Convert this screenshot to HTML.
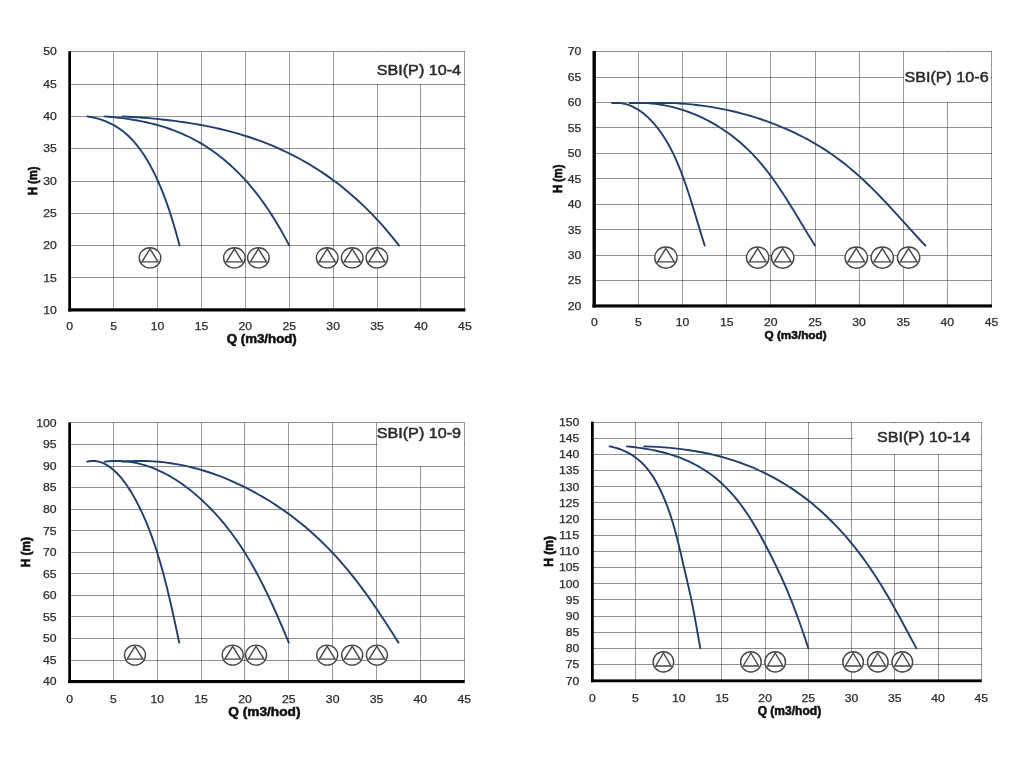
<!DOCTYPE html>
<html lang="cs">
<head>
<meta charset="utf-8">
<title>SBI(P) 10 – Q/H charakteristiky</title>
<style>
html,body{margin:0;padding:0;background:#fff;}
body{width:1024px;height:768px;overflow:hidden;}
svg{display:block;will-change:transform;}
svg text{font-family:"Liberation Sans",sans-serif;}
</style>
</head>
<body>
<svg width="1024" height="768" viewBox="0 0 1024 768">
<rect width="1024" height="768" fill="#fff"/>
<g>
<path d="M113.5 51.8V310.2M157.5 51.8V310.2M201.5 51.8V310.2M245.5 51.8V310.2M289.5 51.8V310.2M333.5 51.8V310.2M377.5 51.8V310.2M420.5 51.8V310.2M464.5 51.8V310.2" stroke="#000" stroke-opacity="0.40" stroke-width="1" fill="none"/>
<path d="M69.75 277.5H465.4M69.75 245.5H465.4M69.75 213.5H465.4M69.75 181.5H465.4M69.75 148.5H465.4M69.75 116.5H465.4M69.75 84.5H465.4M69.75 51.5H465.4" stroke="#000" stroke-opacity="0.44" stroke-width="1" fill="none"/>
<rect x="370" y="52.2" width="94" height="31.7" fill="#fff"/>
<text x="376.7" y="75.4" font-size="14.6" fill="#2b2b2b" stroke="#2b2b2b" stroke-width="0.5" textLength="84.4" lengthAdjust="spacingAndGlyphs">SBI(P) 10-4</text>
<polyline points="87.31,116.4 89.07,116.69 90.82,117.01 92.57,117.36 94.31,117.75 96.04,118.17 97.77,118.64 99.49,119.14 101.21,119.69 102.92,120.27 104.62,120.9 106.31,121.58 108,122.3 109.67,123.07 111.34,123.89 113,124.76 114.64,125.68 116.28,126.65 117.9,127.68 119.52,128.76 121.12,129.9 122.71,131.1 124.29,132.36 125.85,133.68 127.41,135.06 128.94,136.51 130.47,138.01 131.98,139.59 133.48,141.22 134.96,142.92 136.42,144.67 137.87,146.48 139.3,148.35 140.72,150.28 142.12,152.26 143.5,154.3 144.86,156.38 146.21,158.52 147.53,160.71 148.84,162.95 150.13,165.24 151.4,167.58 152.65,169.96 153.88,172.38 155.09,174.85 156.28,177.36 157.45,179.91 158.61,182.49 159.74,185.11 160.86,187.77 161.96,190.46 163.04,193.18 164.1,195.93 165.14,198.7 166.17,201.51 167.18,204.33 168.17,207.18 169.14,210.06 170.1,212.95 171.04,215.86 171.96,218.78 172.86,221.72 173.75,224.68 174.62,227.65 175.48,230.62 176.32,233.61 177.14,236.6 177.95,239.6 178.74,242.6 179.51,245.6" fill="none" stroke="#1f3f6c" stroke-width="1.9" stroke-linecap="round" stroke-linejoin="round"/>
<polyline points="104.87,116.4 108.39,116.69 111.89,117.01 115.38,117.36 118.86,117.75 122.34,118.17 125.79,118.64 129.24,119.14 132.67,119.69 136.09,120.27 139.49,120.9 142.88,121.58 146.24,122.3 149.6,123.07 152.93,123.89 156.24,124.76 159.53,125.68 162.81,126.65 166.06,127.68 169.29,128.76 172.49,129.9 175.67,131.1 178.83,132.36 181.96,133.68 185.06,135.06 188.14,136.51 191.19,138.01 194.21,139.59 197.2,141.22 200.16,142.92 203.09,144.67 205.99,146.48 208.85,148.35 211.69,150.28 214.48,152.26 217.25,154.3 219.97,156.38 222.67,158.52 225.32,160.71 227.93,162.95 230.51,165.24 233.05,167.58 235.55,169.96 238.01,172.38 240.43,174.85 242.81,177.36 245.16,179.91 247.46,182.49 249.73,185.11 251.97,187.77 254.16,190.46 256.32,193.18 258.45,195.93 260.54,198.7 262.59,201.51 264.6,204.33 266.59,207.18 268.53,210.06 270.44,212.95 272.32,215.86 274.17,218.78 275.98,221.72 277.75,224.68 279.5,227.65 281.21,230.62 282.89,233.61 284.53,236.6 286.15,239.6 287.73,242.6 289.28,245.6" fill="none" stroke="#1f3f6c" stroke-width="1.9" stroke-linecap="round" stroke-linejoin="round"/>
<polyline points="122.44,116.4 127.7,116.69 132.96,117.01 138.2,117.36 143.42,117.75 148.63,118.17 153.82,118.64 158.98,119.14 164.13,119.69 169.26,120.27 174.36,120.9 179.44,121.58 184.49,122.3 189.52,123.07 194.52,123.89 199.49,124.76 204.43,125.68 209.33,126.65 214.21,127.68 219.05,128.76 223.86,129.9 228.63,131.1 233.37,132.36 238.06,133.68 242.72,135.06 247.33,136.51 251.91,138.01 256.44,139.59 260.93,141.22 265.37,142.92 269.76,144.67 274.11,146.48 278.41,148.35 282.65,150.28 286.85,152.26 291,154.3 295.09,156.38 299.12,158.52 303.1,160.71 307.03,162.95 310.89,165.24 314.7,167.58 318.45,169.96 322.14,172.38 325.77,174.85 329.34,177.36 332.86,179.91 336.32,182.49 339.73,185.11 343.08,187.77 346.37,190.46 349.61,193.18 352.8,195.93 355.93,198.7 359.01,201.51 362.03,204.33 365,207.18 367.92,210.06 370.79,212.95 373.61,215.86 376.38,218.78 379.09,221.72 381.76,224.68 384.37,227.65 386.94,230.62 389.45,233.61 391.92,236.6 394.34,239.6 396.72,242.6 399.04,245.6" fill="none" stroke="#1f3f6c" stroke-width="1.9" stroke-linecap="round" stroke-linejoin="round"/>
<ellipse cx="150" cy="257.8" rx="10.8" ry="10.1" fill="#fff" stroke="#444444" stroke-width="1.4"/>
<path d="M150 248.91L158.1 261.84H141.9Z" fill="none" stroke="#444444" stroke-width="1.4" stroke-linejoin="miter"/>
<ellipse cx="234.4" cy="257.8" rx="10.8" ry="10.1" fill="#fff" stroke="#444444" stroke-width="1.4"/>
<path d="M234.4 248.91L242.5 261.84H226.3Z" fill="none" stroke="#444444" stroke-width="1.4" stroke-linejoin="miter"/>
<ellipse cx="258.4" cy="257.8" rx="10.8" ry="10.1" fill="#fff" stroke="#444444" stroke-width="1.4"/>
<path d="M258.4 248.91L266.5 261.84H250.3Z" fill="none" stroke="#444444" stroke-width="1.4" stroke-linejoin="miter"/>
<ellipse cx="327.2" cy="257.8" rx="10.8" ry="10.1" fill="#fff" stroke="#444444" stroke-width="1.4"/>
<path d="M327.2 248.91L335.3 261.84H319.1Z" fill="none" stroke="#444444" stroke-width="1.4" stroke-linejoin="miter"/>
<ellipse cx="352.2" cy="257.8" rx="10.8" ry="10.1" fill="#fff" stroke="#444444" stroke-width="1.4"/>
<path d="M352.2 248.91L360.3 261.84H344.1Z" fill="none" stroke="#444444" stroke-width="1.4" stroke-linejoin="miter"/>
<ellipse cx="376.9" cy="257.8" rx="10.8" ry="10.1" fill="#fff" stroke="#444444" stroke-width="1.4"/>
<path d="M376.9 248.91L385 261.84H368.8Z" fill="none" stroke="#444444" stroke-width="1.4" stroke-linejoin="miter"/>
<rect x="68.3" y="51.3" width="2.7" height="260.2" fill="#000"/>
<rect x="68.3" y="308.3" width="397.1" height="3.2" fill="#000"/>
<text x="43.15" y="314" font-size="11" fill="#2b2b2b" stroke="#2b2b2b" stroke-width="0.25" textLength="13.6" lengthAdjust="spacingAndGlyphs">10</text>
<text x="43.15" y="282" font-size="11" fill="#2b2b2b" stroke="#2b2b2b" stroke-width="0.25" textLength="13.6" lengthAdjust="spacingAndGlyphs">15</text>
<text x="43.15" y="249" font-size="11" fill="#2b2b2b" stroke="#2b2b2b" stroke-width="0.25" textLength="13.6" lengthAdjust="spacingAndGlyphs">20</text>
<text x="43.15" y="217" font-size="11" fill="#2b2b2b" stroke="#2b2b2b" stroke-width="0.25" textLength="13.6" lengthAdjust="spacingAndGlyphs">25</text>
<text x="43.15" y="185" font-size="11" fill="#2b2b2b" stroke="#2b2b2b" stroke-width="0.25" textLength="13.6" lengthAdjust="spacingAndGlyphs">30</text>
<text x="43.15" y="152" font-size="11" fill="#2b2b2b" stroke="#2b2b2b" stroke-width="0.25" textLength="13.6" lengthAdjust="spacingAndGlyphs">35</text>
<text x="43.15" y="120" font-size="11" fill="#2b2b2b" stroke="#2b2b2b" stroke-width="0.25" textLength="13.6" lengthAdjust="spacingAndGlyphs">40</text>
<text x="43.15" y="88" font-size="11" fill="#2b2b2b" stroke="#2b2b2b" stroke-width="0.25" textLength="13.6" lengthAdjust="spacingAndGlyphs">45</text>
<text x="43.15" y="55" font-size="11" fill="#2b2b2b" stroke="#2b2b2b" stroke-width="0.25" textLength="13.6" lengthAdjust="spacingAndGlyphs">50</text>
<text x="66.35" y="330" font-size="11" fill="#2b2b2b" stroke="#2b2b2b" stroke-width="0.25" textLength="6.8" lengthAdjust="spacingAndGlyphs">0</text>
<text x="110.26" y="330" font-size="11" fill="#2b2b2b" stroke="#2b2b2b" stroke-width="0.25" textLength="6.8" lengthAdjust="spacingAndGlyphs">5</text>
<text x="150.76" y="330" font-size="11" fill="#2b2b2b" stroke="#2b2b2b" stroke-width="0.25" textLength="13.6" lengthAdjust="spacingAndGlyphs">10</text>
<text x="194.67" y="330" font-size="11" fill="#2b2b2b" stroke="#2b2b2b" stroke-width="0.25" textLength="13.6" lengthAdjust="spacingAndGlyphs">15</text>
<text x="238.57" y="330" font-size="11" fill="#2b2b2b" stroke="#2b2b2b" stroke-width="0.25" textLength="13.6" lengthAdjust="spacingAndGlyphs">20</text>
<text x="282.48" y="330" font-size="11" fill="#2b2b2b" stroke="#2b2b2b" stroke-width="0.25" textLength="13.6" lengthAdjust="spacingAndGlyphs">25</text>
<text x="326.38" y="330" font-size="11" fill="#2b2b2b" stroke="#2b2b2b" stroke-width="0.25" textLength="13.6" lengthAdjust="spacingAndGlyphs">30</text>
<text x="370.29" y="330" font-size="11" fill="#2b2b2b" stroke="#2b2b2b" stroke-width="0.25" textLength="13.6" lengthAdjust="spacingAndGlyphs">35</text>
<text x="414.19" y="330" font-size="11" fill="#2b2b2b" stroke="#2b2b2b" stroke-width="0.25" textLength="13.6" lengthAdjust="spacingAndGlyphs">40</text>
<text x="458.1" y="330" font-size="11" fill="#2b2b2b" stroke="#2b2b2b" stroke-width="0.25" textLength="13.6" lengthAdjust="spacingAndGlyphs">45</text>
<text x="226.75" y="343" font-size="12.5" font-weight="bold" fill="#111" stroke="#111" stroke-width="0.55" textLength="70" lengthAdjust="spacingAndGlyphs">Q (m3/hod)</text>
<text transform="translate(37.2 180.8) rotate(-90)" x="-14.4" y="0" font-size="13" font-weight="bold" fill="#111" stroke="#111" stroke-width="0.7" textLength="28.8" lengthAdjust="spacingAndGlyphs">H (m)</text>
</g>
<g>
<path d="M638.5 51.5V306M682.5 51.5V306M726.5 51.5V306M770.5 51.5V306M815.5 51.5V306M859.5 51.5V306M903.5 51.5V306M947.5 51.5V306M991.5 51.5V306" stroke="#000" stroke-opacity="0.40" stroke-width="1" fill="none"/>
<path d="M594.4 280.5H992M594.4 255.5H992M594.4 229.5H992M594.4 204.5H992M594.4 178.5H992M594.4 153.5H992M594.4 127.5H992M594.4 102.5H992M594.4 77.5H992M594.4 51.5H992" stroke="#000" stroke-opacity="0.44" stroke-width="1" fill="none"/>
<rect x="904.2" y="52.2" width="86.8" height="49.7" fill="#fff"/>
<text x="904.5" y="81.6" font-size="14.6" fill="#2b2b2b" stroke="#2b2b2b" stroke-width="0.5" textLength="84.1" lengthAdjust="spacingAndGlyphs">SBI(P) 10-6</text>
<polyline points="612.05,103 613.9,103 615.75,103 617.59,103 619.42,103 621.24,103.17 623.05,103.48 624.85,103.88 626.65,104.37 628.43,104.94 630.2,105.6 631.96,106.35 633.7,107.17 635.44,108.08 637.16,109.07 638.86,110.14 640.56,111.29 642.23,112.51 643.9,113.81 645.54,115.18 647.18,116.63 648.79,118.15 650.39,119.73 651.97,121.39 653.53,123.12 655.07,124.91 656.6,126.76 658.1,128.69 659.59,130.67 661.06,132.72 662.5,134.82 663.92,136.99 665.32,139.21 666.7,141.49 668.06,143.83 669.39,146.22 670.7,148.66 671.98,151.16 673.24,153.7 674.47,156.3 675.68,158.94 676.87,161.62 678.03,164.35 679.17,167.12 680.3,169.93 681.4,172.77 682.48,175.64 683.55,178.55 684.6,181.48 685.63,184.44 686.65,187.43 687.66,190.43 688.66,193.45 689.64,196.5 690.61,199.55 691.58,202.62 692.54,205.69 693.49,208.78 694.43,211.87 695.37,214.96 696.3,218.05 697.23,221.14 698.16,224.23 699.09,227.31 700.02,230.38 700.95,233.44 701.88,236.49 702.82,239.52 703.76,242.53 704.71,245.52" fill="none" stroke="#1f3f6c" stroke-width="1.9" stroke-linecap="round" stroke-linejoin="round"/>
<polyline points="629.7,103 633.4,103 637.1,103 640.77,103 644.43,103 648.08,103.17 651.7,103.48 655.31,103.88 658.89,104.37 662.45,104.94 665.99,105.6 669.51,106.35 673,107.17 676.47,108.08 679.91,109.07 683.33,110.14 686.71,111.29 690.07,112.51 693.39,113.81 696.69,115.18 699.95,116.63 703.18,118.15 706.38,119.73 709.54,121.39 712.66,123.12 715.75,124.91 718.8,126.76 721.81,128.69 724.78,130.67 727.71,132.72 730.6,134.82 733.44,136.99 736.25,139.21 739,141.49 741.71,143.83 744.38,146.22 746.99,148.66 749.56,151.16 752.08,153.7 754.55,156.3 756.97,158.94 759.34,161.62 761.66,164.35 763.95,167.12 766.19,169.93 768.4,172.77 770.56,175.64 772.7,178.55 774.8,181.48 776.87,184.44 778.91,187.43 780.92,190.43 782.91,193.45 784.88,196.5 786.83,199.55 788.76,202.62 790.67,205.69 792.57,208.78 794.46,211.87 796.34,214.96 798.21,218.05 800.07,221.14 801.93,224.23 803.79,227.31 805.64,230.38 807.51,233.44 809.37,236.49 811.24,239.52 813.12,242.53 815.01,245.52" fill="none" stroke="#1f3f6c" stroke-width="1.9" stroke-linecap="round" stroke-linejoin="round"/>
<polyline points="647.35,103 652.91,103 658.45,103 663.96,103 669.45,103 674.92,103.17 680.35,103.48 685.76,103.88 691.14,104.37 696.48,104.94 701.79,105.6 707.07,106.35 712.31,107.17 717.51,108.08 722.67,109.07 727.79,110.14 732.87,111.29 737.9,112.51 742.89,113.81 747.83,115.18 752.73,116.63 757.57,118.15 762.37,119.73 767.11,121.39 771.79,123.12 776.42,124.91 781,126.76 785.51,128.69 789.97,130.67 794.37,132.72 798.7,134.82 802.97,136.99 807.17,139.21 811.3,141.49 815.37,143.83 819.36,146.22 823.29,148.66 827.14,151.16 830.92,153.7 834.62,156.3 838.25,158.94 841.81,161.62 845.3,164.35 848.72,167.12 852.09,169.93 855.39,172.77 858.64,175.64 861.84,178.55 864.99,181.48 868.1,184.44 871.16,187.43 874.18,190.43 877.17,193.45 880.12,196.5 883.04,199.55 885.94,202.62 888.81,205.69 891.66,208.78 894.49,211.87 897.3,214.96 900.11,218.05 902.9,221.14 905.69,224.23 908.48,227.31 911.27,230.38 914.06,233.44 916.85,236.49 919.66,239.52 922.48,242.53 925.32,245.52" fill="none" stroke="#1f3f6c" stroke-width="1.9" stroke-linecap="round" stroke-linejoin="round"/>
<ellipse cx="665.9" cy="257.6" rx="11.2" ry="10.6" fill="#fff" stroke="#444444" stroke-width="1.4"/>
<path d="M665.9 248.27L674.3 261.84H657.5Z" fill="none" stroke="#444444" stroke-width="1.4" stroke-linejoin="miter"/>
<ellipse cx="757.7" cy="257.6" rx="11.2" ry="10.6" fill="#fff" stroke="#444444" stroke-width="1.4"/>
<path d="M757.7 248.27L766.1 261.84H749.3Z" fill="none" stroke="#444444" stroke-width="1.4" stroke-linejoin="miter"/>
<ellipse cx="782.7" cy="257.6" rx="11.2" ry="10.6" fill="#fff" stroke="#444444" stroke-width="1.4"/>
<path d="M782.7 248.27L791.1 261.84H774.3Z" fill="none" stroke="#444444" stroke-width="1.4" stroke-linejoin="miter"/>
<ellipse cx="856.25" cy="257.6" rx="11.2" ry="10.6" fill="#fff" stroke="#444444" stroke-width="1.4"/>
<path d="M856.25 248.27L864.65 261.84H847.85Z" fill="none" stroke="#444444" stroke-width="1.4" stroke-linejoin="miter"/>
<ellipse cx="882.3" cy="257.6" rx="11.2" ry="10.6" fill="#fff" stroke="#444444" stroke-width="1.4"/>
<path d="M882.3 248.27L890.7 261.84H873.9Z" fill="none" stroke="#444444" stroke-width="1.4" stroke-linejoin="miter"/>
<ellipse cx="908.6" cy="257.6" rx="11.2" ry="10.6" fill="#fff" stroke="#444444" stroke-width="1.4"/>
<path d="M908.6 248.27L917 261.84H900.2Z" fill="none" stroke="#444444" stroke-width="1.4" stroke-linejoin="miter"/>
<rect x="592.5" y="51" width="3.4" height="256.5" fill="#000"/>
<rect x="592.5" y="304.4" width="399.5" height="3.1" fill="#000"/>
<text x="567.8" y="310" font-size="11" fill="#2b2b2b" stroke="#2b2b2b" stroke-width="0.25" textLength="13.6" lengthAdjust="spacingAndGlyphs">20</text>
<text x="567.8" y="284" font-size="11" fill="#2b2b2b" stroke="#2b2b2b" stroke-width="0.25" textLength="13.6" lengthAdjust="spacingAndGlyphs">25</text>
<text x="567.8" y="259" font-size="11" fill="#2b2b2b" stroke="#2b2b2b" stroke-width="0.25" textLength="13.6" lengthAdjust="spacingAndGlyphs">30</text>
<text x="567.8" y="234" font-size="11" fill="#2b2b2b" stroke="#2b2b2b" stroke-width="0.25" textLength="13.6" lengthAdjust="spacingAndGlyphs">35</text>
<text x="567.8" y="208" font-size="11" fill="#2b2b2b" stroke="#2b2b2b" stroke-width="0.25" textLength="13.6" lengthAdjust="spacingAndGlyphs">40</text>
<text x="567.8" y="183" font-size="11" fill="#2b2b2b" stroke="#2b2b2b" stroke-width="0.25" textLength="13.6" lengthAdjust="spacingAndGlyphs">45</text>
<text x="567.8" y="157" font-size="11" fill="#2b2b2b" stroke="#2b2b2b" stroke-width="0.25" textLength="13.6" lengthAdjust="spacingAndGlyphs">50</text>
<text x="567.8" y="132" font-size="11" fill="#2b2b2b" stroke="#2b2b2b" stroke-width="0.25" textLength="13.6" lengthAdjust="spacingAndGlyphs">55</text>
<text x="567.8" y="106" font-size="11" fill="#2b2b2b" stroke="#2b2b2b" stroke-width="0.25" textLength="13.6" lengthAdjust="spacingAndGlyphs">60</text>
<text x="567.8" y="81" font-size="11" fill="#2b2b2b" stroke="#2b2b2b" stroke-width="0.25" textLength="13.6" lengthAdjust="spacingAndGlyphs">65</text>
<text x="567.8" y="55" font-size="11" fill="#2b2b2b" stroke="#2b2b2b" stroke-width="0.25" textLength="13.6" lengthAdjust="spacingAndGlyphs">70</text>
<text x="591" y="326" font-size="11" fill="#2b2b2b" stroke="#2b2b2b" stroke-width="0.25" textLength="6.8" lengthAdjust="spacingAndGlyphs">0</text>
<text x="635.12" y="326" font-size="11" fill="#2b2b2b" stroke="#2b2b2b" stroke-width="0.25" textLength="6.8" lengthAdjust="spacingAndGlyphs">5</text>
<text x="675.84" y="326" font-size="11" fill="#2b2b2b" stroke="#2b2b2b" stroke-width="0.25" textLength="13.6" lengthAdjust="spacingAndGlyphs">10</text>
<text x="719.97" y="326" font-size="11" fill="#2b2b2b" stroke="#2b2b2b" stroke-width="0.25" textLength="13.6" lengthAdjust="spacingAndGlyphs">15</text>
<text x="764.09" y="326" font-size="11" fill="#2b2b2b" stroke="#2b2b2b" stroke-width="0.25" textLength="13.6" lengthAdjust="spacingAndGlyphs">20</text>
<text x="808.21" y="326" font-size="11" fill="#2b2b2b" stroke="#2b2b2b" stroke-width="0.25" textLength="13.6" lengthAdjust="spacingAndGlyphs">25</text>
<text x="852.33" y="326" font-size="11" fill="#2b2b2b" stroke="#2b2b2b" stroke-width="0.25" textLength="13.6" lengthAdjust="spacingAndGlyphs">30</text>
<text x="896.46" y="326" font-size="11" fill="#2b2b2b" stroke="#2b2b2b" stroke-width="0.25" textLength="13.6" lengthAdjust="spacingAndGlyphs">35</text>
<text x="940.58" y="326" font-size="11" fill="#2b2b2b" stroke="#2b2b2b" stroke-width="0.25" textLength="13.6" lengthAdjust="spacingAndGlyphs">40</text>
<text x="984.7" y="326" font-size="11" fill="#2b2b2b" stroke="#2b2b2b" stroke-width="0.25" textLength="13.6" lengthAdjust="spacingAndGlyphs">45</text>
<text x="764.48" y="339" font-size="11.5" font-weight="bold" fill="#111" stroke="#111" stroke-width="0.55" textLength="62.25" lengthAdjust="spacingAndGlyphs">Q (m3/hod)</text>
<text transform="translate(562.3 178.8) rotate(-90)" x="-14.3" y="0" font-size="13" font-weight="bold" fill="#111" stroke="#111" stroke-width="0.7" textLength="28.6" lengthAdjust="spacingAndGlyphs">H (m)</text>
</g>
<g>
<path d="M113.5 422.9V681.4M157.5 422.9V681.4M201.5 422.9V681.4M244.5 422.9V681.4M288.5 422.9V681.4M332.5 422.9V681.4M376.5 422.9V681.4M420.5 422.9V681.4M464.5 422.9V681.4" stroke="#000" stroke-opacity="0.40" stroke-width="1" fill="none"/>
<path d="M69.6 660.5H464.7M69.6 638.5H464.7M69.6 616.5H464.7M69.6 595.5H464.7M69.6 573.5H464.7M69.6 552.5H464.7M69.6 530.5H464.7M69.6 509.5H464.7M69.6 487.5H464.7M69.6 466.5H464.7M69.6 444.5H464.7M69.6 422.5H464.7" stroke="#000" stroke-opacity="0.44" stroke-width="1" fill="none"/>
<rect x="377.2" y="423.1" width="86.7" height="42.8" fill="#fff"/>
<text x="376.7" y="438" font-size="14.6" fill="#2b2b2b" stroke="#2b2b2b" stroke-width="0.5" textLength="84.4" lengthAdjust="spacingAndGlyphs">SBI(P) 10-9</text>
<polyline points="87.14,461.67 89.23,461.24 91.3,460.99 93.35,460.93 95.38,461.05 97.39,461.34 99.37,461.8 101.33,462.42 103.27,463.19 105.19,464.12 107.08,465.18 108.96,466.39 110.8,467.72 112.63,469.19 114.43,470.77 116.21,472.47 117.97,474.27 119.7,476.19 121.41,478.2 123.1,480.31 124.76,482.51 126.39,484.79 128.01,487.16 129.6,489.61 131.16,492.12 132.7,494.71 134.22,497.35 135.71,500.06 137.18,502.82 138.62,505.63 140.04,508.49 141.43,511.4 142.8,514.35 144.14,517.35 145.46,520.4 146.75,523.48 148.02,526.6 149.26,529.76 150.47,532.96 151.66,536.19 152.83,539.45 153.97,542.74 155.09,546.06 156.18,549.41 157.26,552.79 158.31,556.19 159.34,559.62 160.36,563.07 161.35,566.55 162.33,570.05 163.29,573.56 164.23,577.1 165.16,580.65 166.07,584.22 166.97,587.81 167.85,591.41 168.72,595.02 169.58,598.65 170.43,602.28 171.27,605.93 172.09,609.58 172.91,613.24 173.72,616.91 174.52,620.58 175.32,624.25 176.11,627.93 176.89,631.6 177.67,635.28 178.44,638.95 179.21,642.62" fill="none" stroke="#1f3f6c" stroke-width="1.9" stroke-linecap="round" stroke-linejoin="round"/>
<polyline points="104.68,461.67 108.86,461.24 113.01,460.99 117.11,460.93 121.16,461.05 125.18,461.34 129.14,461.8 133.07,462.42 136.95,463.19 140.78,464.12 144.57,465.18 148.31,466.39 152.01,467.72 155.66,469.19 159.27,470.77 162.82,472.47 166.34,474.27 169.8,476.19 173.22,478.2 176.59,480.31 179.91,482.51 183.19,484.79 186.42,487.16 189.6,489.61 192.73,492.12 195.81,494.71 198.84,497.35 201.83,500.06 204.76,502.82 207.65,505.63 210.48,508.49 213.27,511.4 216,514.35 218.69,517.35 221.32,520.4 223.91,523.48 226.44,526.6 228.92,529.76 231.35,532.96 233.73,536.19 236.06,539.45 238.34,542.74 240.58,546.06 242.77,549.41 244.91,552.79 247.02,556.19 249.09,559.62 251.11,563.07 253.1,566.55 255.06,570.05 256.97,573.56 258.86,577.1 260.71,580.65 262.54,584.22 264.33,587.81 266.1,591.41 267.84,595.02 269.56,598.65 271.26,602.28 272.93,605.93 274.59,609.58 276.22,613.24 277.84,616.91 279.44,620.58 281.03,624.25 282.61,627.93 284.18,631.6 285.73,635.28 287.28,638.95 288.82,642.62" fill="none" stroke="#1f3f6c" stroke-width="1.9" stroke-linecap="round" stroke-linejoin="round"/>
<polyline points="122.21,461.67 128.49,461.24 134.71,460.99 140.86,460.93 146.95,461.05 152.96,461.34 158.92,461.8 164.8,462.42 170.62,463.19 176.37,464.12 182.05,465.18 187.67,466.39 193.21,467.72 198.69,469.19 204.1,470.77 209.44,472.47 214.7,474.27 219.9,476.19 225.03,478.2 230.09,480.31 235.07,482.51 239.98,484.79 244.83,487.16 249.59,489.61 254.29,492.12 258.91,494.71 263.46,497.35 267.94,500.06 272.34,502.82 276.67,505.63 280.93,508.49 285.1,511.4 289.21,514.35 293.23,517.35 297.19,520.4 301.06,523.48 304.86,526.6 308.58,529.76 312.22,532.96 315.79,536.19 319.29,539.45 322.71,542.74 326.06,546.06 329.35,549.41 332.57,552.79 335.73,556.19 338.83,559.62 341.87,563.07 344.85,566.55 347.78,570.05 350.66,573.56 353.49,577.1 356.27,580.65 359.01,584.22 361.7,587.81 364.35,591.41 366.97,595.02 369.54,598.65 372.09,602.28 374.6,605.93 377.08,609.58 379.53,613.24 381.96,616.91 384.37,620.58 386.75,624.25 389.12,627.93 391.47,631.6 393.8,635.28 396.12,638.95 398.43,642.62" fill="none" stroke="#1f3f6c" stroke-width="1.9" stroke-linecap="round" stroke-linejoin="round"/>
<ellipse cx="135" cy="655.1" rx="10.5" ry="10" fill="#fff" stroke="#444444" stroke-width="1.4"/>
<path d="M135 646.3L142.88 659.1H127.12Z" fill="none" stroke="#444444" stroke-width="1.4" stroke-linejoin="miter"/>
<ellipse cx="232.7" cy="655.1" rx="10.5" ry="10" fill="#fff" stroke="#444444" stroke-width="1.4"/>
<path d="M232.7 646.3L240.57 659.1H224.82Z" fill="none" stroke="#444444" stroke-width="1.4" stroke-linejoin="miter"/>
<ellipse cx="256.1" cy="655.1" rx="10.5" ry="10" fill="#fff" stroke="#444444" stroke-width="1.4"/>
<path d="M256.1 646.3L263.98 659.1H248.23Z" fill="none" stroke="#444444" stroke-width="1.4" stroke-linejoin="miter"/>
<ellipse cx="327.2" cy="655.1" rx="10.5" ry="10" fill="#fff" stroke="#444444" stroke-width="1.4"/>
<path d="M327.2 646.3L335.07 659.1H319.32Z" fill="none" stroke="#444444" stroke-width="1.4" stroke-linejoin="miter"/>
<ellipse cx="352.2" cy="655.1" rx="10.5" ry="10" fill="#fff" stroke="#444444" stroke-width="1.4"/>
<path d="M352.2 646.3L360.07 659.1H344.32Z" fill="none" stroke="#444444" stroke-width="1.4" stroke-linejoin="miter"/>
<ellipse cx="376.9" cy="655.1" rx="10.5" ry="10" fill="#fff" stroke="#444444" stroke-width="1.4"/>
<path d="M376.9 646.3L384.77 659.1H369.02Z" fill="none" stroke="#444444" stroke-width="1.4" stroke-linejoin="miter"/>
<rect x="68.25" y="422.4" width="2.75" height="260.7" fill="#000"/>
<rect x="68.25" y="680" width="396.45" height="3.1" fill="#000"/>
<text x="43" y="685" font-size="11" fill="#2b2b2b" stroke="#2b2b2b" stroke-width="0.25" textLength="13.6" lengthAdjust="spacingAndGlyphs">40</text>
<text x="43" y="664" font-size="11" fill="#2b2b2b" stroke="#2b2b2b" stroke-width="0.25" textLength="13.6" lengthAdjust="spacingAndGlyphs">45</text>
<text x="43" y="642" font-size="11" fill="#2b2b2b" stroke="#2b2b2b" stroke-width="0.25" textLength="13.6" lengthAdjust="spacingAndGlyphs">50</text>
<text x="43" y="621" font-size="11" fill="#2b2b2b" stroke="#2b2b2b" stroke-width="0.25" textLength="13.6" lengthAdjust="spacingAndGlyphs">55</text>
<text x="43" y="599" font-size="11" fill="#2b2b2b" stroke="#2b2b2b" stroke-width="0.25" textLength="13.6" lengthAdjust="spacingAndGlyphs">60</text>
<text x="43" y="578" font-size="11" fill="#2b2b2b" stroke="#2b2b2b" stroke-width="0.25" textLength="13.6" lengthAdjust="spacingAndGlyphs">65</text>
<text x="43" y="556" font-size="11" fill="#2b2b2b" stroke="#2b2b2b" stroke-width="0.25" textLength="13.6" lengthAdjust="spacingAndGlyphs">70</text>
<text x="43" y="535" font-size="11" fill="#2b2b2b" stroke="#2b2b2b" stroke-width="0.25" textLength="13.6" lengthAdjust="spacingAndGlyphs">75</text>
<text x="43" y="513" font-size="11" fill="#2b2b2b" stroke="#2b2b2b" stroke-width="0.25" textLength="13.6" lengthAdjust="spacingAndGlyphs">80</text>
<text x="43" y="491" font-size="11" fill="#2b2b2b" stroke="#2b2b2b" stroke-width="0.25" textLength="13.6" lengthAdjust="spacingAndGlyphs">85</text>
<text x="43" y="470" font-size="11" fill="#2b2b2b" stroke="#2b2b2b" stroke-width="0.25" textLength="13.6" lengthAdjust="spacingAndGlyphs">90</text>
<text x="43" y="448" font-size="11" fill="#2b2b2b" stroke="#2b2b2b" stroke-width="0.25" textLength="13.6" lengthAdjust="spacingAndGlyphs">95</text>
<text x="36.2" y="427" font-size="11" fill="#2b2b2b" stroke="#2b2b2b" stroke-width="0.25" textLength="20.4" lengthAdjust="spacingAndGlyphs">100</text>
<text x="66.2" y="703" font-size="11" fill="#2b2b2b" stroke="#2b2b2b" stroke-width="0.25" textLength="6.8" lengthAdjust="spacingAndGlyphs">0</text>
<text x="110.04" y="703" font-size="11" fill="#2b2b2b" stroke="#2b2b2b" stroke-width="0.25" textLength="6.8" lengthAdjust="spacingAndGlyphs">5</text>
<text x="150.49" y="703" font-size="11" fill="#2b2b2b" stroke="#2b2b2b" stroke-width="0.25" textLength="13.6" lengthAdjust="spacingAndGlyphs">10</text>
<text x="194.33" y="703" font-size="11" fill="#2b2b2b" stroke="#2b2b2b" stroke-width="0.25" textLength="13.6" lengthAdjust="spacingAndGlyphs">15</text>
<text x="238.18" y="703" font-size="11" fill="#2b2b2b" stroke="#2b2b2b" stroke-width="0.25" textLength="13.6" lengthAdjust="spacingAndGlyphs">20</text>
<text x="282.02" y="703" font-size="11" fill="#2b2b2b" stroke="#2b2b2b" stroke-width="0.25" textLength="13.6" lengthAdjust="spacingAndGlyphs">25</text>
<text x="325.87" y="703" font-size="11" fill="#2b2b2b" stroke="#2b2b2b" stroke-width="0.25" textLength="13.6" lengthAdjust="spacingAndGlyphs">30</text>
<text x="369.71" y="703" font-size="11" fill="#2b2b2b" stroke="#2b2b2b" stroke-width="0.25" textLength="13.6" lengthAdjust="spacingAndGlyphs">35</text>
<text x="413.56" y="703" font-size="11" fill="#2b2b2b" stroke="#2b2b2b" stroke-width="0.25" textLength="13.6" lengthAdjust="spacingAndGlyphs">40</text>
<text x="457.4" y="703" font-size="11" fill="#2b2b2b" stroke="#2b2b2b" stroke-width="0.25" textLength="13.6" lengthAdjust="spacingAndGlyphs">45</text>
<text x="228.27" y="716" font-size="13" font-weight="bold" fill="#111" stroke="#111" stroke-width="0.55" textLength="72.25" lengthAdjust="spacingAndGlyphs">Q (m3/hod)</text>
<text transform="translate(29.9 552.1) rotate(-90)" x="-15.1" y="0" font-size="13" font-weight="bold" fill="#111" stroke="#111" stroke-width="0.7" textLength="30.2" lengthAdjust="spacingAndGlyphs">H (m)</text>
</g>
<g>
<path d="M635.5 422.1V680.7M678.5 422.1V680.7M721.5 422.1V680.7M765.5 422.1V680.7M808.5 422.1V680.7M851.5 422.1V680.7M894.5 422.1V680.7M938.5 422.1V680.7M981.5 422.1V680.7" stroke="#000" stroke-opacity="0.40" stroke-width="1" fill="none"/>
<path d="M592.3 664.5H981.75M592.3 648.5H981.75M592.3 632.5H981.75M592.3 616.5H981.75M592.3 599.5H981.75M592.3 583.5H981.75M592.3 567.5H981.75M592.3 551.5H981.75M592.3 535.5H981.75M592.3 519.5H981.75M592.3 502.5H981.75M592.3 486.5H981.75M592.3 470.5H981.75M592.3 454.5H981.75M592.3 438.5H981.75M592.3 422.5H981.75" stroke="#000" stroke-opacity="0.44" stroke-width="1" fill="none"/>
<rect x="853.2" y="423.1" width="127.7" height="30.8" fill="#fff"/>
<text x="877" y="442.4" font-size="14.6" fill="#2b2b2b" stroke="#2b2b2b" stroke-width="0.5" textLength="93.2" lengthAdjust="spacingAndGlyphs">SBI(P) 10-14</text>
<polyline points="609.59,446.34 611.65,446.8 613.72,447.31 615.81,447.88 617.89,448.52 619.98,449.23 622.07,450.02 624.15,450.89 626.23,451.85 628.3,452.9 630.35,454.05 632.39,455.3 634.41,456.66 636.41,458.13 638.39,459.71 640.34,461.41 642.25,463.23 644.14,465.16 645.99,467.21 647.79,469.39 649.56,471.68 651.29,474.09 652.97,476.61 654.6,479.24 656.2,481.98 657.76,484.81 659.27,487.74 660.75,490.76 662.18,493.85 663.57,497.03 664.93,500.28 666.25,503.6 667.53,506.98 668.77,510.42 669.97,513.91 671.14,517.45 672.27,521.03 673.37,524.65 674.43,528.31 675.46,531.99 676.45,535.69 677.41,539.42 678.35,543.16 679.26,546.92 680.15,550.69 681.03,554.48 681.91,558.28 682.78,562.1 683.66,565.93 684.55,569.78 685.45,573.64 686.36,577.5 687.26,581.38 688.16,585.27 689.05,589.17 689.92,593.08 690.77,597 691.6,600.92 692.4,604.85 693.18,608.79 693.93,612.74 694.67,616.68 695.4,620.64 696.11,624.59 696.81,628.55 697.51,632.51 698.21,636.48 698.92,640.44 699.62,644.41 700.34,648.38" fill="none" stroke="#1f3f6c" stroke-width="1.9" stroke-linecap="round" stroke-linejoin="round"/>
<polyline points="626.87,446.34 631.04,446.78 635.22,447.27 639.4,447.82 643.59,448.44 647.77,449.14 651.95,449.91 656.12,450.76 660.26,451.71 664.39,452.74 668.48,453.88 672.55,455.12 676.58,456.48 680.56,457.94 684.5,459.53 688.38,461.23 692.21,463.06 695.97,465.01 699.67,467.07 703.29,469.26 706.84,471.58 710.3,474.01 713.68,476.57 716.97,479.23 720.18,481.99 723.29,484.86 726.31,487.81 729.24,490.86 732.08,493.98 734.83,497.17 737.49,500.44 740.08,503.77 742.59,507.15 745.03,510.58 747.4,514.06 749.71,517.57 751.95,521.12 754.14,524.69 756.27,528.29 758.36,531.92 760.41,535.58 762.43,539.26 764.41,542.96 766.37,546.69 768.31,550.44 770.24,554.21 772.15,558 774.04,561.81 775.91,565.64 777.76,569.48 779.58,573.34 781.38,577.22 783.13,581.11 784.86,585.01 786.55,588.92 788.2,592.85 789.82,596.78 791.41,600.72 792.96,604.67 794.49,608.63 795.99,612.6 797.45,616.57 798.9,620.54 800.32,624.51 801.71,628.49 803.08,632.47 804.44,636.45 805.77,640.43 807.09,644.4 808.38,648.38" fill="none" stroke="#1f3f6c" stroke-width="1.9" stroke-linecap="round" stroke-linejoin="round"/>
<polyline points="644.16,446.34 650.85,446.58 657.47,446.92 664.02,447.37 670.49,447.91 676.89,448.57 683.21,449.33 689.44,450.2 695.6,451.19 701.68,452.29 707.68,453.5 713.59,454.83 719.42,456.28 725.16,457.85 730.81,459.54 736.38,461.35 741.86,463.27 747.25,465.32 752.55,467.48 757.76,469.75 762.87,472.13 767.89,474.61 772.82,477.19 777.65,479.87 782.38,482.63 787.01,485.48 791.54,488.41 795.97,491.41 800.31,494.48 804.54,497.62 808.69,500.83 812.73,504.1 816.69,507.42 820.55,510.8 824.33,514.23 828.01,517.71 831.61,521.24 835.12,524.8 838.55,528.4 841.89,532.03 845.15,535.7 848.33,539.39 851.44,543.1 854.46,546.84 857.41,550.59 860.29,554.37 863.1,558.16 865.84,561.96 868.53,565.78 871.15,569.62 873.72,573.47 876.24,577.34 878.71,581.22 881.14,585.11 883.52,589.01 885.86,592.92 888.17,596.85 890.44,600.78 892.69,604.72 894.91,608.67 897.11,612.62 899.29,616.58 901.45,620.54 903.6,624.51 905.75,628.49 907.88,632.46 910.01,636.44 912.15,640.42 914.28,644.4 916.42,648.38" fill="none" stroke="#1f3f6c" stroke-width="1.9" stroke-linecap="round" stroke-linejoin="round"/>
<ellipse cx="663.4" cy="661.9" rx="10.3" ry="10.1" fill="#fff" stroke="#444444" stroke-width="1.4"/>
<path d="M663.4 653.01L671.12 665.94H655.67Z" fill="none" stroke="#444444" stroke-width="1.4" stroke-linejoin="miter"/>
<ellipse cx="750.9" cy="661.9" rx="10.3" ry="10.1" fill="#fff" stroke="#444444" stroke-width="1.4"/>
<path d="M750.9 653.01L758.62 665.94H743.17Z" fill="none" stroke="#444444" stroke-width="1.4" stroke-linejoin="miter"/>
<ellipse cx="775.2" cy="661.9" rx="10.3" ry="10.1" fill="#fff" stroke="#444444" stroke-width="1.4"/>
<path d="M775.2 653.01L782.93 665.94H767.48Z" fill="none" stroke="#444444" stroke-width="1.4" stroke-linejoin="miter"/>
<ellipse cx="853.1" cy="661.9" rx="10.3" ry="10.1" fill="#fff" stroke="#444444" stroke-width="1.4"/>
<path d="M853.1 653.01L860.83 665.94H845.38Z" fill="none" stroke="#444444" stroke-width="1.4" stroke-linejoin="miter"/>
<ellipse cx="877.8" cy="661.9" rx="10.3" ry="10.1" fill="#fff" stroke="#444444" stroke-width="1.4"/>
<path d="M877.8 653.01L885.52 665.94H870.07Z" fill="none" stroke="#444444" stroke-width="1.4" stroke-linejoin="miter"/>
<ellipse cx="902.3" cy="661.9" rx="10.3" ry="10.1" fill="#fff" stroke="#444444" stroke-width="1.4"/>
<path d="M902.3 653.01L910.02 665.94H894.57Z" fill="none" stroke="#444444" stroke-width="1.4" stroke-linejoin="miter"/>
<rect x="591" y="421.6" width="2.75" height="260.65" fill="#000"/>
<rect x="591" y="679.4" width="390.75" height="2.85" fill="#000"/>
<text x="565.7" y="685" font-size="11" fill="#2b2b2b" stroke="#2b2b2b" stroke-width="0.25" textLength="13.6" lengthAdjust="spacingAndGlyphs">70</text>
<text x="565.7" y="668" font-size="11" fill="#2b2b2b" stroke="#2b2b2b" stroke-width="0.25" textLength="13.6" lengthAdjust="spacingAndGlyphs">75</text>
<text x="565.7" y="652" font-size="11" fill="#2b2b2b" stroke="#2b2b2b" stroke-width="0.25" textLength="13.6" lengthAdjust="spacingAndGlyphs">80</text>
<text x="565.7" y="636" font-size="11" fill="#2b2b2b" stroke="#2b2b2b" stroke-width="0.25" textLength="13.6" lengthAdjust="spacingAndGlyphs">85</text>
<text x="565.7" y="620" font-size="11" fill="#2b2b2b" stroke="#2b2b2b" stroke-width="0.25" textLength="13.6" lengthAdjust="spacingAndGlyphs">90</text>
<text x="565.7" y="604" font-size="11" fill="#2b2b2b" stroke="#2b2b2b" stroke-width="0.25" textLength="13.6" lengthAdjust="spacingAndGlyphs">95</text>
<text x="558.9" y="588" font-size="11" fill="#2b2b2b" stroke="#2b2b2b" stroke-width="0.25" textLength="20.4" lengthAdjust="spacingAndGlyphs">100</text>
<text x="558.9" y="571" font-size="11" fill="#2b2b2b" stroke="#2b2b2b" stroke-width="0.25" textLength="20.4" lengthAdjust="spacingAndGlyphs">105</text>
<text x="558.9" y="555" font-size="11" fill="#2b2b2b" stroke="#2b2b2b" stroke-width="0.25" textLength="20.4" lengthAdjust="spacingAndGlyphs">110</text>
<text x="558.9" y="539" font-size="11" fill="#2b2b2b" stroke="#2b2b2b" stroke-width="0.25" textLength="20.4" lengthAdjust="spacingAndGlyphs">115</text>
<text x="558.9" y="523" font-size="11" fill="#2b2b2b" stroke="#2b2b2b" stroke-width="0.25" textLength="20.4" lengthAdjust="spacingAndGlyphs">120</text>
<text x="558.9" y="507" font-size="11" fill="#2b2b2b" stroke="#2b2b2b" stroke-width="0.25" textLength="20.4" lengthAdjust="spacingAndGlyphs">125</text>
<text x="558.9" y="491" font-size="11" fill="#2b2b2b" stroke="#2b2b2b" stroke-width="0.25" textLength="20.4" lengthAdjust="spacingAndGlyphs">130</text>
<text x="558.9" y="474" font-size="11" fill="#2b2b2b" stroke="#2b2b2b" stroke-width="0.25" textLength="20.4" lengthAdjust="spacingAndGlyphs">135</text>
<text x="558.9" y="458" font-size="11" fill="#2b2b2b" stroke="#2b2b2b" stroke-width="0.25" textLength="20.4" lengthAdjust="spacingAndGlyphs">140</text>
<text x="558.9" y="442" font-size="11" fill="#2b2b2b" stroke="#2b2b2b" stroke-width="0.25" textLength="20.4" lengthAdjust="spacingAndGlyphs">145</text>
<text x="558.9" y="426" font-size="11" fill="#2b2b2b" stroke="#2b2b2b" stroke-width="0.25" textLength="20.4" lengthAdjust="spacingAndGlyphs">150</text>
<text x="588.9" y="702" font-size="11" fill="#2b2b2b" stroke="#2b2b2b" stroke-width="0.25" textLength="6.8" lengthAdjust="spacingAndGlyphs">0</text>
<text x="632.12" y="702" font-size="11" fill="#2b2b2b" stroke="#2b2b2b" stroke-width="0.25" textLength="6.8" lengthAdjust="spacingAndGlyphs">5</text>
<text x="671.93" y="702" font-size="11" fill="#2b2b2b" stroke="#2b2b2b" stroke-width="0.25" textLength="13.6" lengthAdjust="spacingAndGlyphs">10</text>
<text x="715.15" y="702" font-size="11" fill="#2b2b2b" stroke="#2b2b2b" stroke-width="0.25" textLength="13.6" lengthAdjust="spacingAndGlyphs">15</text>
<text x="758.37" y="702" font-size="11" fill="#2b2b2b" stroke="#2b2b2b" stroke-width="0.25" textLength="13.6" lengthAdjust="spacingAndGlyphs">20</text>
<text x="801.58" y="702" font-size="11" fill="#2b2b2b" stroke="#2b2b2b" stroke-width="0.25" textLength="13.6" lengthAdjust="spacingAndGlyphs">25</text>
<text x="844.8" y="702" font-size="11" fill="#2b2b2b" stroke="#2b2b2b" stroke-width="0.25" textLength="13.6" lengthAdjust="spacingAndGlyphs">30</text>
<text x="888.02" y="702" font-size="11" fill="#2b2b2b" stroke="#2b2b2b" stroke-width="0.25" textLength="13.6" lengthAdjust="spacingAndGlyphs">35</text>
<text x="931.23" y="702" font-size="11" fill="#2b2b2b" stroke="#2b2b2b" stroke-width="0.25" textLength="13.6" lengthAdjust="spacingAndGlyphs">40</text>
<text x="974.45" y="702" font-size="11" fill="#2b2b2b" stroke="#2b2b2b" stroke-width="0.25" textLength="13.6" lengthAdjust="spacingAndGlyphs">45</text>
<text x="757.65" y="715" font-size="12" font-weight="bold" fill="#111" stroke="#111" stroke-width="0.55" textLength="63.5" lengthAdjust="spacingAndGlyphs">Q (m3/hod)</text>
<text transform="translate(552.7 551.3) rotate(-90)" x="-15.35" y="0" font-size="13" font-weight="bold" fill="#111" stroke="#111" stroke-width="0.7" textLength="30.7" lengthAdjust="spacingAndGlyphs">H (m)</text>
</g>
</svg>
</body>
</html>
